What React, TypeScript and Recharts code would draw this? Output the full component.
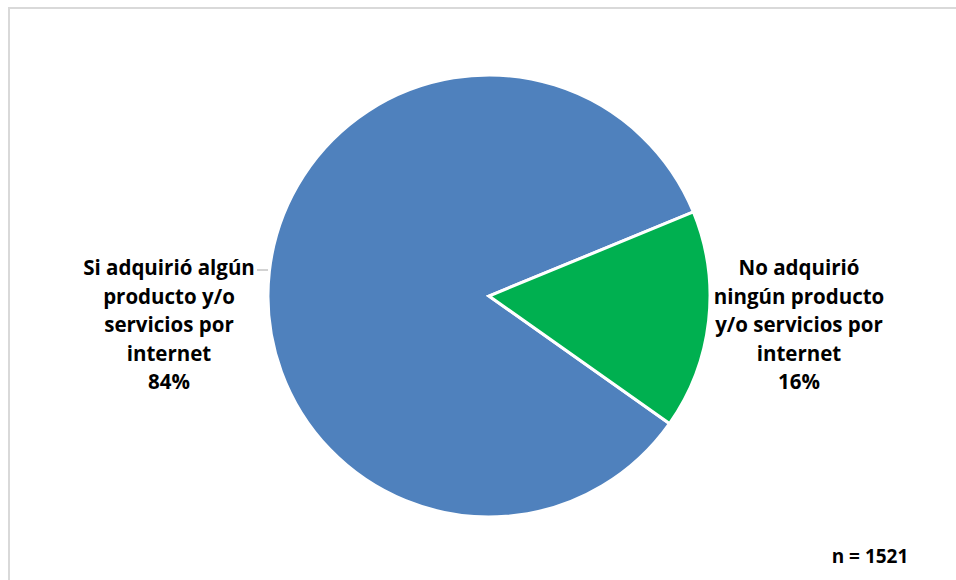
import React from "react";
import { PieChart, Pie, Cell } from "recharts";

const categories = [
  "Si adquirió algún producto y/o servicios por internet",
  "No adquirió ningún producto y/o servicios por internet",
];
const labelLines = [
  ["Si adquirió algún", "producto y/o", "servicios por", "internet"],
  ["No adquirió", "ningún producto", "y/o servicios por", "internet"],
];
const values = [84, 16];
const colors = ["#4f81bd", "#00b050"];
const sampleNote = "n = 1521";

const data = categories.map((name, i) => ({ name, value: values[i], idx: i }));
const total = values.reduce((a, b) => a + b, 0);

const FONT = "'Open Sans', Lato, sans-serif";

const renderLabel = (props: any) => {
  const { cx, cy, outerRadius, midAngle, index } = props;
  const side = Math.cos((midAngle * Math.PI) / 180) >= 0 ? 1 : -1;
  const x = cx + side * (outerRadius + (side > 0 ? 89 : 99));
  const y0 = cy - 29;
  const lh = 28.5;
  const lines = [...labelLines[index], `${Math.round((values[index] / total) * 100)}%`];
  return (
    <g key={`lbl-${index}`}>
      {side < 0 && (
        <line
          x1={cx - outerRadius - 11}
          x2={cx - outerRadius}
          y1={cy - 26}
          y2={cy - 26}
          stroke="#a6a6a6"
          strokeWidth={1}
        />
      )}
      <text
        x={x}
        y={y0}
        textAnchor="middle"
        fill="#000"
        fontFamily={FONT}
        fontWeight="bold"
        fontSize={20.5}
      >
        {lines.map((l, i) => (
          <tspan key={i} x={x} y={y0 + i * lh} dominantBaseline="central">
            {l}
          </tspan>
        ))}
      </text>
    </g>
  );
};

export default function App() {
  return (
    <div
      style={{
        position: "fixed",
        left: 0,
        top: 0,
        width: 956,
        height: 580,
        overflow: "hidden",
        background: "#fff",
      }}
    >
      <style>{`html,body{overflow:hidden;}`}</style>
      <div
        style={{
          position: "absolute",
          left: 8,
          top: 7,
          width: 980,
          height: 600,
          borderLeft: "2px solid #d9d9d9",
          borderTop: "2px solid #d9d9d9",
        }}
      />
      <div style={{ position: "absolute", left: 0, top: 0 }}>
        <PieChart width={956} height={580} margin={{ top: 0, right: 0, bottom: 0, left: 0 }}>
          <Pie
            data={data}
            dataKey="value"
            nameKey="name"
            cx={489}
            cy={296}
            outerRadius={221}
            startAngle={324.75}
            endAngle={-35.25}
            stroke="#ffffff"
            strokeWidth={3}
            label={renderLabel}
            labelLine={false}
            isAnimationActive={false}
          >
            {data.map((d, i) => (
              <Cell key={d.name} fill={colors[i]} />
            ))}
          </Pie>
        </PieChart>
      </div>
      <div
        style={{
          position: "absolute",
          left: 825,
          top: 543,
          width: 90,
          lineHeight: "26px",
          textAlign: "center",
          fontFamily: FONT,
          fontWeight: "bold",
          fontSize: 19,
          color: "#000",
        }}
      >
        {sampleNote}
      </div>
    </div>
  );
}
